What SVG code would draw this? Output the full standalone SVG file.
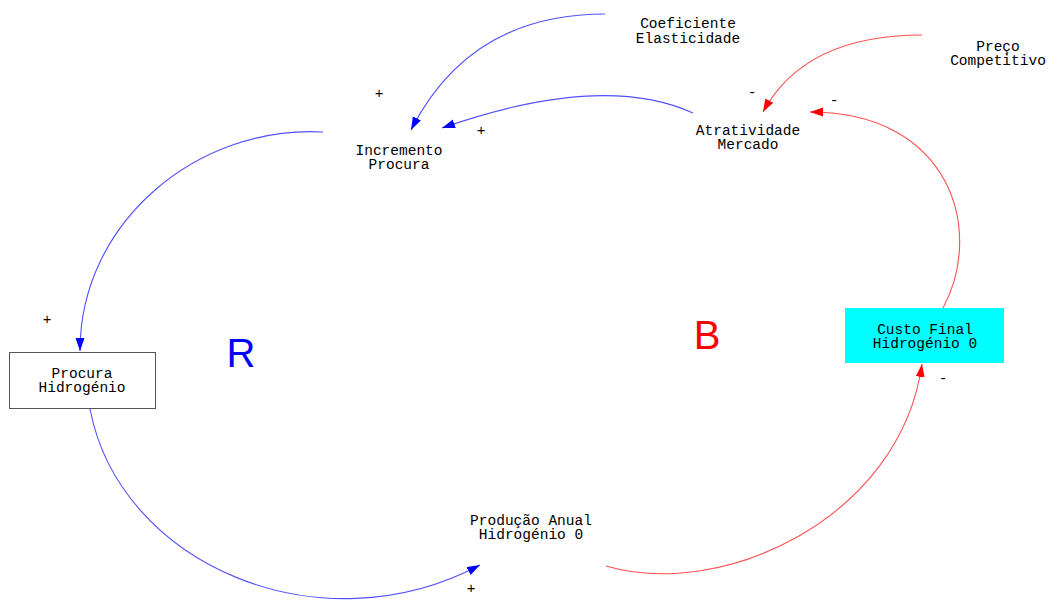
<svg xmlns="http://www.w3.org/2000/svg" width="1048" height="600" viewBox="0 0 1048 600">
<defs>
<marker id="ab" markerUnits="userSpaceOnUse" markerWidth="14" markerHeight="10" refX="13" refY="4.5" orient="auto"><path d="M0,0 L13,4.5 L0,9 z" fill="#0000ff"/></marker>
<marker id="ar" markerUnits="userSpaceOnUse" markerWidth="14" markerHeight="10" refX="13" refY="4.5" orient="auto"><path d="M0,0 L13,4.5 L0,9 z" fill="#ff0000"/></marker>
</defs>
<style>
text{font-family:"Liberation Mono","Courier New",monospace;font-size:14.5px;fill:#000;text-anchor:middle}
.b{fill:none;stroke:#5050ff;stroke-width:1.1;marker-end:url(#ab)}
.r{fill:none;stroke:#ff5050;stroke-width:1.1;marker-end:url(#ar)}
.big{font-family:"Liberation Sans",Arial,sans-serif;font-size:40px}
</style>
<rect width="1048" height="600" fill="#fff"/>
<g id="connectors">
<path class="b" d="M605,14 Q470,14 411,130"/>
<path class="b" d="M693,113 Q602,72 442,128"/>
<path class="b" d="M323,132 C200,125 80,220 80,351"/>
<path class="b" d="M90,409 C120,565 320,650 480,565"/>
<path class="r" d="M606,566 C720,600 900,520 922,364"/>
<path class="r" d="M943,308 C985,230 950,112 810,112"/>
<path class="r" d="M922,35 Q805,35 763,112"/>
</g>
<g id="coeficiente"><text x="688" y="28">Coeficiente</text><text x="688" y="43">Elasticidade</text></g>
<g id="preco"><text x="998" y="51">Preço</text><text x="998" y="65">Competitivo</text></g>
<g id="incremento"><text x="399" y="155">Incremento</text><text x="399" y="169">Procura</text></g>
<g id="atratividade"><text x="748" y="135">Atratividade</text><text x="748" y="149">Mercado</text></g>
<g id="procura"><rect x="9.5" y="352.5" width="146" height="56" fill="#fff" stroke="#555"/><text x="82" y="378">Procura</text><text x="82" y="392">Hidrogénio</text></g>
<g id="custo"><rect x="845" y="308" width="159" height="55" fill="#00ffff"/><text x="925" y="334">Custo Final</text><text x="925" y="348">Hidrogénio 0</text></g>
<g id="producao"><text x="531" y="525">Produção Anual</text><text x="531" y="539">Hidrogénio 0</text></g>
<g id="signs">
<text x="379" y="98">+</text><text x="481" y="135">+</text><text x="47" y="324">+</text><text x="471" y="593">+</text>
<text x="752" y="97">-</text><text x="834" y="105">-</text><text x="943" y="383">-</text>
</g>
<g id="loops"><text class="big" x="241" y="367" style="fill:#0000ff">R</text><text class="big" x="707" y="349" style="fill:#ff0000">B</text></g>
</svg>
